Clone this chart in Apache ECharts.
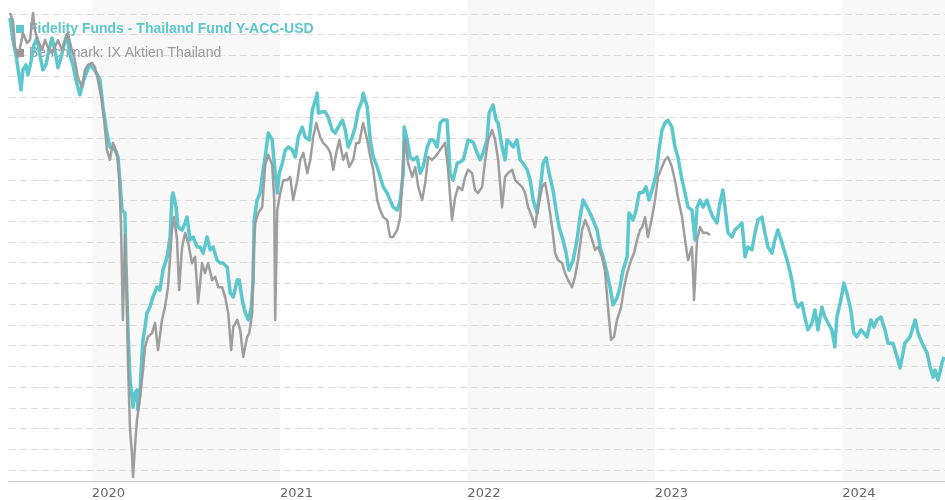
<!DOCTYPE html>
<html><head><meta charset="utf-8">
<script src="https://cdn.jsdelivr.net/npm/echarts/dist/echarts.min.js"></script>
<style>html,body{margin:0;padding:0;background:#fff}#c{width:945px;height:500px}</style>
</head><body><div id="c"></div><script>
const fundName = 'Fidelity Funds - Thailand Fund Y-ACC-USD';
const benchName = 'Benchmark: IX Aktien Thailand';

const fundDates = [2019.563,2019.579,2019.595,2019.611,2019.622,2019.632,2019.648,2019.659,2019.675,2019.691,2019.707,2019.723,2019.739,2019.755,2019.771,2019.787,2019.803,2019.819,2019.835,2019.851,2019.867,2019.883,2019.899,2019.915,2019.936,2019.957,2019.973,2019.989,2020.005,2020.021,2020.043,2020.059,2020.080,2020.096,2020.123,2020.139,2020.149,2020.160,2020.176,2020.181,2020.192,2020.203,2020.213,2020.219,2020.229,2020.240,2020.245,2020.256,2020.267,2020.272,2020.283,2020.293,2020.309,2020.325,2020.346,2020.362,2020.378,2020.400,2020.416,2020.426,2020.432,2020.448,2020.458,2020.480,2020.496,2020.506,2020.522,2020.538,2020.560,2020.576,2020.592,2020.613,2020.629,2020.645,2020.666,2020.682,2020.698,2020.720,2020.736,2020.752,2020.773,2020.784,2020.800,2020.816,2020.832,2020.848,2020.858,2020.863,2020.879,2020.895,2020.911,2020.922,2020.938,2020.959,2020.970,2020.986,2020.997,2021.013,2021.029,2021.045,2021.066,2021.082,2021.098,2021.119,2021.135,2021.157,2021.173,2021.189,2021.199,2021.205,2021.226,2021.242,2021.258,2021.279,2021.295,2021.311,2021.333,2021.349,2021.364,2021.386,2021.402,2021.418,2021.439,2021.444,2021.466,2021.482,2021.498,2021.519,2021.535,2021.551,2021.572,2021.588,2021.604,2021.626,2021.642,2021.658,2021.663,2021.679,2021.695,2021.711,2021.732,2021.748,2021.764,2021.786,2021.802,2021.818,2021.839,2021.855,2021.871,2021.892,2021.908,2021.924,2021.946,2021.961,2021.978,2022.004,2022.031,2022.052,2022.068,2022.084,2022.105,2022.116,2022.137,2022.153,2022.164,2022.185,2022.201,2022.212,2022.228,2022.244,2022.265,2022.281,2022.297,2022.319,2022.335,2022.351,2022.372,2022.388,2022.404,2022.420,2022.436,2022.457,2022.473,2022.489,2022.510,2022.527,2022.542,2022.564,2022.585,2022.601,2022.617,2022.638,2022.654,2022.670,2022.692,2022.708,2022.724,2022.745,2022.761,2022.777,2022.798,2022.814,2022.830,2022.852,2022.862,2022.884,2022.900,2022.916,2022.937,2022.953,2022.969,2022.990,2023.006,2023.022,2023.038,2023.054,2023.070,2023.091,2023.107,2023.123,2023.145,2023.161,2023.177,2023.198,2023.214,2023.225,2023.241,2023.257,2023.278,2023.294,2023.310,2023.331,2023.347,2023.363,2023.374,2023.390,2023.411,2023.427,2023.443,2023.465,2023.481,2023.496,2023.518,2023.534,2023.550,2023.571,2023.587,2023.603,2023.624,2023.640,2023.656,2023.678,2023.694,2023.710,2023.731,2023.747,2023.763,2023.784,2023.800,2023.816,2023.838,2023.854,2023.870,2023.891,2023.907,2023.923,2023.944,2023.960,2023.971,2023.992,2024.008,2024.024,2024.045,2024.061,2024.077,2024.099,2024.115,2024.131,2024.152,2024.168,2024.184,2024.205,2024.227,2024.243,2024.269,2024.291,2024.307,2024.333,2024.360,2024.387,2024.403,2024.424,2024.451,2024.467,2024.483,2024.493,2024.509,2024.530,2024.541];
const fundValues = [149.0,143.7,140.1,135.3,131.7,136.5,137.7,135.3,138.4,142.5,144.2,140.1,136.5,137.7,141.3,144.2,141.3,137.0,139.4,142.5,144.9,140.1,137.7,134.1,130.5,134.1,136.0,137.7,137.0,136.0,134.1,127.6,121.3,117.9,117.2,115.5,109.9,102.7,102.0,89.9,73.8,61.7,57.6,55.2,58.6,59.3,54.5,58.6,68.2,71.4,74.5,77.9,79.3,81.7,84.1,83.4,88.2,91.4,96.2,105.8,106.8,103.4,98.6,97.9,99.6,101.0,95.5,96.2,93.8,93.8,92.3,96.2,93.1,93.8,90.6,89.9,89.9,88.9,82.7,81.7,85.8,85.8,81.0,77.9,76.2,79.3,85.8,100.3,105.1,106.8,112.4,115.5,121.3,119.6,114.0,106.8,111.6,114.0,117.2,117.9,117.2,115.5,120.3,122.7,120.3,119.6,126.8,129.2,130.9,126.1,126.4,126.4,125.1,122.0,121.3,122.7,124.4,122.0,117.9,120.3,122.7,126.8,129.2,130.9,127.6,119.6,115.5,113.1,110.7,108.3,106.8,105.1,103.4,102.7,105.1,111.6,122.7,119.6,115.5,114.8,115.5,111.6,113.1,117.9,119.6,119.6,117.9,123.7,124.4,124.4,111.6,109.9,114.0,114.3,114.8,119.6,119.1,116.5,114.8,116.5,119.6,126.1,128.0,124.4,123.7,117.9,114.8,119.6,118.9,117.9,119.6,114.8,114.0,112.4,109.9,105.1,102.0,107.5,114.0,115.3,111.6,107.5,102.7,98.6,95.5,92.3,88.2,90.6,95.5,101.0,105.1,103.4,102.0,100.3,97.9,93.8,91.4,87.5,84.1,79.8,81.5,84.1,88.2,91.4,102.0,100.3,102.7,106.8,107.0,108.3,105.1,108.3,111.1,117.2,122.0,123.7,124.4,122.7,117.9,115.5,109.9,106.8,103.4,102.7,95.5,103.4,105.1,103.4,105.1,102.7,101.0,99.6,104.4,107.5,103.4,97.2,96.2,97.9,98.6,99.6,91.4,93.8,93.1,97.2,100.3,101.0,97.2,93.8,92.3,95.5,97.9,94.8,92.3,89.9,85.8,81.0,79.3,80.3,76.9,73.8,75.5,78.6,73.8,79.3,76.9,75.5,73.8,69.7,76.9,81.0,85.1,82.7,78.6,73.0,72.1,73.8,73.0,72.1,76.2,74.5,76.2,76.9,73.8,70.6,70.6,67.3,64.6,70.6,72.1,76.2,73.0,70.6,68.2,64.8,62.4,64.1,61.7,65.8,67.3];

const benchDates = [2019.563,2019.579,2019.590,2019.606,2019.622,2019.632,2019.654,2019.670,2019.686,2019.696,2019.712,2019.734,2019.750,2019.765,2019.787,2019.803,2019.819,2019.840,2019.856,2019.872,2019.893,2019.909,2019.925,2019.947,2019.963,2019.979,2020.000,2020.016,2020.032,2020.053,2020.069,2020.080,2020.096,2020.112,2020.133,2020.144,2020.155,2020.165,2020.176,2020.187,2020.192,2020.203,2020.213,2020.219,2020.229,2020.240,2020.245,2020.256,2020.272,2020.283,2020.298,2020.320,2020.336,2020.352,2020.373,2020.389,2020.405,2020.426,2020.437,2020.453,2020.464,2020.480,2020.496,2020.512,2020.533,2020.549,2020.565,2020.586,2020.602,2020.618,2020.640,2020.656,2020.672,2020.693,2020.709,2020.725,2020.741,2020.752,2020.773,2020.789,2020.805,2020.826,2020.837,2020.853,2020.858,2020.869,2020.885,2020.906,2020.922,2020.938,2020.959,2020.970,2020.975,2020.986,2021.002,2021.018,2021.039,2021.055,2021.071,2021.093,2021.109,2021.125,2021.146,2021.162,2021.178,2021.194,2021.215,2021.231,2021.253,2021.269,2021.285,2021.301,2021.317,2021.338,2021.354,2021.370,2021.391,2021.407,2021.423,2021.444,2021.466,2021.482,2021.498,2021.519,2021.535,2021.551,2021.572,2021.588,2021.604,2021.626,2021.642,2021.658,2021.668,2021.684,2021.706,2021.722,2021.738,2021.759,2021.775,2021.791,2021.812,2021.828,2021.844,2021.865,2021.881,2021.897,2021.918,2021.935,2021.951,2021.972,2021.988,2022.004,2022.025,2022.041,2022.057,2022.079,2022.095,2022.111,2022.132,2022.148,2022.164,2022.185,2022.201,2022.217,2022.239,2022.255,2022.271,2022.292,2022.308,2022.324,2022.345,2022.361,2022.377,2022.399,2022.415,2022.431,2022.452,2022.468,2022.484,2022.505,2022.521,2022.537,2022.558,2022.574,2022.590,2022.612,2022.628,2022.644,2022.665,2022.681,2022.697,2022.718,2022.734,2022.750,2022.766,2022.782,2022.798,2022.820,2022.836,2022.852,2022.873,2022.889,2022.905,2022.921,2022.932,2022.948,2022.963,2022.985,2023.001,2023.017,2023.038,2023.054,2023.070,2023.091,2023.107,2023.123,2023.145,2023.161,2023.177,2023.198,2023.209,2023.225,2023.241,2023.257,2023.278,2023.294];
const benchValues = [150.2,148.5,142.0,139.6,143.0,145.4,143.0,143.7,150.2,146.1,143.7,141.3,143.7,142.0,140.6,142.0,143.7,141.3,143.7,145.4,141.3,138.9,134.8,132.4,136.5,137.7,138.2,137.2,134.1,129.2,122.7,117.2,114.8,118.9,116.5,111.6,99.1,76.2,96.7,81.0,65.8,49.6,44.1,38.3,45.5,52.1,53.7,57.6,64.1,69.7,72.1,73.0,75.5,68.9,76.2,79.3,84.1,97.9,101.0,95.5,83.4,93.8,97.2,94.8,89.9,91.4,80.3,89.9,87.5,89.9,85.8,86.6,84.1,84.1,81.7,77.9,68.9,74.5,76.2,73.8,67.3,72.1,73.0,77.9,89.9,99.6,102.0,103.4,113.6,116.0,113.6,105.1,76.2,102.7,106.8,109.9,109.9,110.7,105.1,109.9,114.8,116.5,111.6,114.8,120.3,123.7,120.3,118.9,117.9,116.5,112.4,116.5,119.6,114.8,116.5,113.1,114.8,118.9,118.9,123.7,119.6,115.5,112.4,105.1,102.7,101.0,100.3,96.2,96.2,97.9,101.0,114.8,119.6,114.0,110.7,113.1,108.3,105.1,109.2,115.5,114.8,115.5,116.5,117.9,118.9,112.4,100.3,105.8,108.3,107.5,110.7,112.4,111.6,107.5,106.8,108.3,114.8,119.6,122.0,119.6,114.8,103.4,110.7,111.6,112.4,109.9,109.2,108.3,106.8,103.4,101.0,98.6,103.4,108.3,109.2,105.1,98.6,92.3,90.6,89.9,87.5,85.8,84.1,86.6,90.6,97.9,100.3,98.6,95.5,93.1,93.8,91.4,88.2,79.3,71.4,72.1,76.2,79.3,84.1,87.5,90.6,92.3,95.5,97.9,98.6,101.0,96.2,101.0,105.1,110.7,113.1,114.8,115.5,113.1,109.9,105.8,101.0,95.5,90.6,93.8,81.0,95.5,98.6,97.2,97.2,96.7];

const shadedYears = [[2020, 2021], [2022, 2023], [2024, 2024.546]];
const xRange = [2019.558, 2024.546];
const yRange = [37.18, 153.36];
const gridLevels = [40, 150, 5];

function toTime(dy) {
  const y = Math.floor(dy);
  const s = Date.UTC(y, 0, 1), e = Date.UTC(y + 1, 0, 1);
  return s + (dy - y) * (e - s);
}
const fundData = fundDates.map((d, i) => [toTime(d), fundValues[i]]);
const benchData = benchDates.map((d, i) => [toTime(d), benchValues[i]]);
const bandData = shadedYears.map(b => [toTime(b[0]), toTime(b[1])]);

const TEAL = '#5cc7cd';
const GREY = '#999999';

const chart = echarts.init(document.getElementById('c'), null, {renderer: 'canvas'});
chart.setOption({
  useUTC: true,
  animation: false,
  backgroundColor: '#ffffff',
  grid: [
    {left: 9, right: 0, top: 0, bottom: 18.3, outerBoundsMode: 'none', containLabel: false},
    {left: 9, right: 0, top: 14, bottom: 30, outerBoundsMode: 'none', containLabel: false}
  ],
  legend: {
    orient: 'vertical', left: 16, top: 21, padding: 0, itemGap: 8, z: 1,
    icon: 'rect', itemWidth: 8, itemHeight: 8,
    textStyle: {fontFamily: 'Liberation Sans', fontSize: 14, lineHeight: 16},
    data: [
      {name: fundName, textStyle: {color: TEAL, fontWeight: 'bold'}},
      {name: benchName, textStyle: {color: GREY, fontWeight: 'normal'}}
    ]
  },
  xAxis: [
    {
      type: 'time', gridIndex: 0, min: toTime(xRange[0]), max: toTime(xRange[1]), z: 1,
      axisLine: {show: true, lineStyle: {color: '#cccccc', width: 1}},
      axisTick: {show: false},
      splitLine: {show: false},
      minInterval: 360 * 86400000,
      axisLabel: {
        show: true, align: 'left', margin: 5, color: '#666666',
        fontFamily: 'DejaVu Sans', fontSize: 13, showMinLabel: false, showMaxLabel: false,
        formatter: function (v) {
          const d = new Date(v);
          return (d.getUTCMonth() === 0 && d.getUTCDate() === 1) ? String(d.getUTCFullYear()) : '';
        }
      }
    },
    {type: 'value', gridIndex: 1, min: 0, max: 1, show: false}
  ],
  yAxis: [
    {type: 'value', gridIndex: 0, min: yRange[0], max: yRange[1], show: false},
    {
      type: 'value', gridIndex: 1, min: gridLevels[0], max: gridLevels[1], interval: gridLevels[2], z: 1,
      axisLine: {show: false}, axisTick: {show: false}, axisLabel: {show: false},
      splitLine: {show: true, lineStyle: {color: '#dddddd', width: 1, type: [7, 4]}}
    }
  ],
  series: [
    {
      type: 'custom', name: 'bands', xAxisIndex: 0, yAxisIndex: 0, z: 0, silent: true,
      data: bandData,
      renderItem: function (params, api) {
        const p0 = api.coord([api.value(0), yRange[1]]);
        const p1 = api.coord([api.value(1), yRange[0]]);
        return {type: 'rect', shape: {x: p0[0], y: p0[1], width: p1[0] - p0[0], height: p1[1] - p0[1]}, style: {fill: '#f8f8f8'}};
      }
    },
    {
      name: fundName, type: 'line', xAxisIndex: 0, yAxisIndex: 0, z: 2,
      data: fundData, showSymbol: false, symbol: 'none',
      itemStyle: {color: TEAL},
      lineStyle: {color: TEAL, width: 3.5, join: 'round'}
    },
    {
      name: benchName, type: 'line', xAxisIndex: 0, yAxisIndex: 0, z: 2,
      data: benchData, showSymbol: false, symbol: 'none',
      itemStyle: {color: GREY},
      lineStyle: {color: GREY, width: 2.5, opacity: 0.95, join: 'round'}
    }
  ]
});
</script></body></html>
